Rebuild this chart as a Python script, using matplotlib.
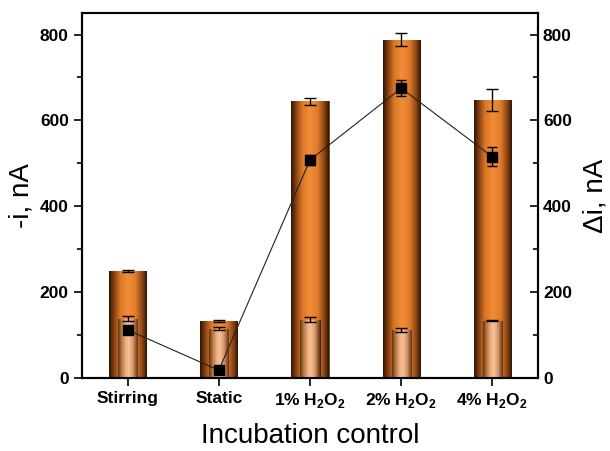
import numpy as np
import matplotlib
matplotlib.use("Agg")
import matplotlib.pyplot as plt
from matplotlib.colors import LinearSegmentedColormap

plt.rcParams['font.family'] = ['Liberation Sans', 'DejaVu Sans']
plt.rcParams['mathtext.fontset'] = 'custom'
plt.rcParams['mathtext.bf'] = 'Liberation Sans:bold'
plt.rcParams['mathtext.rm'] = 'Liberation Sans'

categories = ['Stirring', 'Static', '1% H$_\\mathbf{2}$O$_\\mathbf{2}$',
              '2% H$_\\mathbf{2}$O$_\\mathbf{2}$', '4% H$_\\mathbf{2}$O$_\\mathbf{2}$']
outer_vals = [250, 133, 645, 788, 648]
outer_err = [2, 3, 8, 15, 25]
inner_vals = [138, 115, 136, 112, 133]
inner_err = [6, 3, 6, 4, 1]
delta_vals = [112, 18, 508, 675, 515]
delta_err = [4, 3, 12, 18, 22]

outer_cmap = LinearSegmentedColormap.from_list('outer', [
    (0.0, '#2e1403'), (0.12, '#7e3d10'), (0.3, '#dc7828'), (0.5, '#f28c36'),
    (0.7, '#e07c2c'), (0.88, '#8a4414'), (1.0, '#2e1403')])
inner_cmap = LinearSegmentedColormap.from_list('inner', [
    (0.0, '#5e3211'), (0.18, '#b87540'), (0.4, '#f0b384'), (0.55, '#f6c196'),
    (0.75, '#d89868'), (1.0, '#5e3211')])

fig = plt.figure(figsize=(6.1, 4.51), dpi=100)
ax = fig.add_axes([0.1344, 0.1619, 0.7476, 0.8091])
x = np.arange(len(categories))

def gradient_bars(ax, bars, cmap):
    grad = np.linspace(0, 1, 256).reshape(1, -1)
    for b in bars:
        x0, y0 = b.get_x(), b.get_y()
        w, h = b.get_width(), b.get_height()
        im = ax.imshow(grad, cmap=cmap, aspect='auto',
                       extent=[x0, x0 + w, y0, y0 + h], zorder=b.get_zorder() + 0.1)
        im.set_clip_path(b)

ob = ax.bar(x, outer_vals, width=0.41, color='#e8832f', edgecolor='#5a3a20',
            linewidth=0.6, zorder=2)
gradient_bars(ax, ob, outer_cmap)
ax.errorbar(x, outer_vals, yerr=outer_err, fmt='none', ecolor='black',
            elinewidth=1.0, capsize=4, capthick=1.0, zorder=5)

ib = ax.bar(x, inner_vals, width=0.21, color='#f3b98a', edgecolor='#3a2410',
            linewidth=0.7, zorder=3)
gradient_bars(ax, ib, inner_cmap)
ax.errorbar(x, inner_vals, yerr=inner_err, fmt='none', ecolor='black',
            elinewidth=1.0, capsize=4, capthick=1.0, zorder=6)

ax.set_xlim(-0.5, 4.5)
ax.set_ylim(0, 850)
ax.set_yticks([0, 200, 400, 600, 800])
ax.set_yticks([100, 300, 500, 700], minor=True)
ax.set_xticks(x)
ax.set_xticklabels(categories, fontweight='bold', fontsize=12.5)
for lab in ax.get_yticklabels():
    lab.set_fontweight('bold')
ax.tick_params(axis='y', which='major', direction='out', length=6, width=1.2,
               labelsize=12.5, right=False)
ax.tick_params(axis='y', which='minor', direction='out', length=3.5, width=1.2, right=False)
ax.tick_params(axis='x', direction='out', length=6, width=1.2, top=False)
for s in ax.spines.values():
    s.set_linewidth(1.5)
ax.set_ylabel('-i, nA', fontsize=20, labelpad=4)
ax.set_xlabel('Incubation control', fontsize=20, labelpad=9)

ax2 = ax.twinx()
ax2.set_ylim(0, 850)
ax2.set_yticks([0, 200, 400, 600, 800])
ax2.set_yticks([100, 300, 500, 700], minor=True)
ax2.tick_params(axis='y', which='major', direction='in', length=6, width=1.2, labelsize=12.5)
ax2.tick_params(axis='y', which='minor', direction='in', length=3.5, width=1.2)
for lab in ax2.get_yticklabels():
    lab.set_fontweight('bold')
ax2.plot(x, delta_vals, color='#222222', linewidth=0.8, marker='s', markersize=7,
         markerfacecolor='black', markeredgecolor='black', zorder=7)
ax2.errorbar(x, delta_vals, yerr=delta_err, fmt='none', ecolor='black',
             elinewidth=1.0, capsize=3.5, capthick=1.0, zorder=8)
ax2.set_ylabel('Δi, nA', fontsize=20, labelpad=8)
for s in ax2.spines.values():
    s.set_linewidth(1.5)

fig.savefig('out.png', dpi=100)
